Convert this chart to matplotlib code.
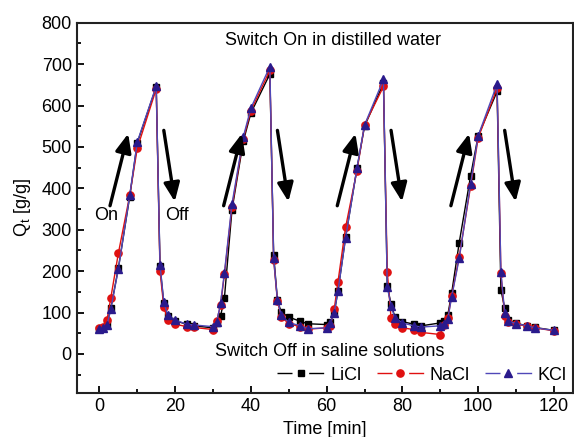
import matplotlib
matplotlib.use("Agg")
import matplotlib.pyplot as plt
from matplotlib.ticker import MultipleLocator
from matplotlib.lines import Line2D

plt.rcParams['font.family'] = ['Liberation Sans', 'DejaVu Sans']

# Time [min]
time = [0, 1, 2, 3, 5, 8, 10, 15, 16, 17, 18, 20, 23, 25,
        30, 31, 32, 33, 35, 38, 40, 45, 46, 47, 48, 50, 53, 55,
        60, 61, 62, 63, 65, 68, 70, 75, 76, 77, 78, 80, 83, 85,
        90, 91, 92, 93, 95, 98, 100, 105, 106, 107, 108, 110, 113, 115,
        120]

licl = [60, 63, 72, 110, 207, 380, 510, 645, 212, 122, 92, 80, 72, 68,
        63, 75, 92, 135, 348, 514, 582, 676, 240, 130, 101, 89, 79, 73,
        71, 76, 100, 153, 282, 448, 550, 654, 165, 120, 90, 78, 72, 68,
        75, 80, 95, 147, 269, 430, 527, 634, 155, 111, 82, 74, 68, 64,
        57]

nacl = [62, 65, 82, 135, 243, 383, 497, 640, 200, 114, 82, 72, 66, 64,
        59, 80, 118, 192, 355, 520, 588, 685, 228, 128, 90, 73, 66, 60,
        63, 68, 108, 175, 306, 443, 553, 646, 199, 87, 73, 63, 59, 52,
        47, 70, 88, 140, 235, 405, 522, 642, 195, 92, 76, 72, 67, 63,
        56]

kcl = [60, 63, 70, 108, 205, 383, 512, 647, 215, 126, 94, 82, 72, 70,
       66, 78, 123, 196, 362, 525, 594, 694, 231, 131, 93, 76, 68, 61,
       63, 75, 99, 153, 280, 449, 553, 663, 162, 117, 87, 75, 68, 65,
       68, 72, 85, 138, 231, 411, 527, 652, 198, 100, 80, 73, 68, 63,
       57]

series_names = ["LiCl", "NaCl", "KCl"]
xticks = [0, 20, 40, 60, 80, 100, 120]
yticks = [0, 100, 200, 300, 400, 500, 600, 700, 800]

FS = 13

fig = plt.figure(figsize=(5.74, 4.37), dpi=100)
ax = fig.add_axes([0.1336, 0.1, 0.8644, 0.848])

styles = [
    dict(color='black', marker='s', ms=4.5, mfc='black', mec='black'),
    dict(color='#e01010', marker='o', ms=5.2, mfc='#e01010', mec='#e01010'),
    dict(color='#5048b8', marker='^', ms=5.8, mfc='#2a1a8c', mec='#2a1a8c'),
]

for i, (vals, name) in enumerate(zip([licl, nacl, kcl], series_names)):
    ax.plot(time, vals, lw=1.0, label=name, zorder=3 + i, **styles[i])

ax.set_xlim(-6, 125)
ax.set_ylim(-95, 800)
ax.set_xticks(xticks)
ax.set_yticks(yticks)
ax.xaxis.set_minor_locator(MultipleLocator(10))
ax.yaxis.set_minor_locator(MultipleLocator(50))
ax.tick_params(which='both', direction='in', labelsize=FS, width=1.3,
               top=False, right=False)
ax.tick_params(which='major', length=5)
ax.tick_params(which='minor', length=3)
for s in ax.spines.values():
    s.set_linewidth(1.5)
    s.set_color('#222222')

ax.set_xlabel("Time [min]", fontsize=FS, labelpad=4)
ax.set_ylabel(r"Q$_\mathregular{t}$ [g/g]", fontsize=FS, labelpad=6)

ax.text(61.6, 757, "Switch On in distilled water", ha='center', va='center',
        fontsize=FS)
ax.text(60.9, 6, "Switch Off in saline solutions", ha='center', va='center',
        fontsize=FS)
ax.text(1.7, 334, "On", ha='center', va='center', fontsize=FS)
ax.text(20.4, 334, "Off", ha='center', va='center', fontsize=FS)

arrow_kw = dict(arrowstyle='-|>,head_length=0.7,head_width=0.3', lw=2.4,
                color='black', mutation_scale=16, shrinkA=0, shrinkB=0)
for base in [0, 30, 60, 90]:
    ax.annotate("", xy=(base + 7.6, 532), xytext=(base + 2.8, 358),
                arrowprops=arrow_kw, zorder=6)
    ax.annotate("", xy=(base + 19.9, 368), xytext=(base + 17.0, 540),
                arrowprops=arrow_kw, zorder=6)

handles = [Line2D([], [], lw=1.0, dashes=(10.8, 12.0), **st) for st in styles]
leg = ax.legend(handles, series_names, loc='center right',
                bbox_to_anchor=(0.988, 0.049), ncol=3,
                frameon=False, fontsize=FS, handlelength=2.6,
                handletextpad=0.33, columnspacing=0.85, borderaxespad=0,
                borderpad=0)

fig.savefig("out.png", dpi=100)
